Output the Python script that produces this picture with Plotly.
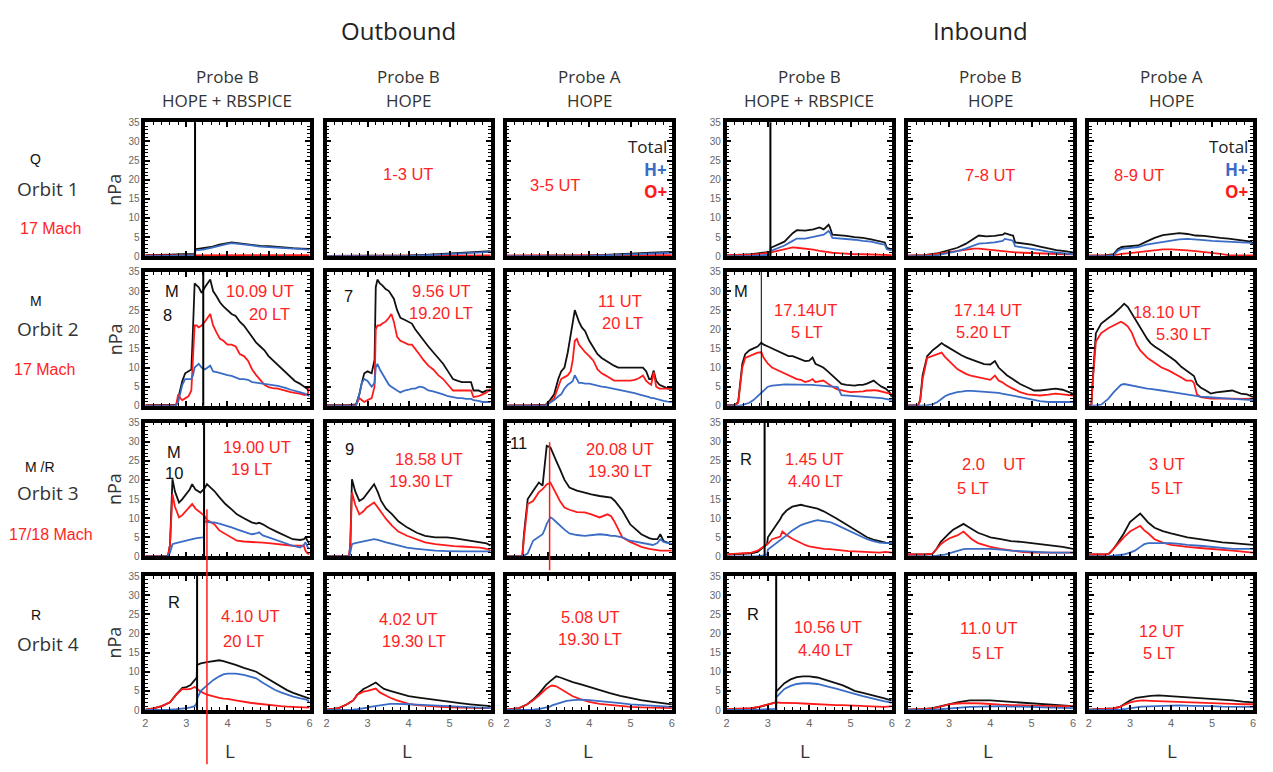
import plotly.graph_objects as go

# ------------------------------------------------------------------
# DATA  (L-shell vs pressure in nPa; Total, H+ and O+ per panel)
# naming: r<orbit row>c<column>_  columns 1-3 outbound, 4-6 inbound
# ------------------------------------------------------------------
# Orbit 1
r1c1_L = [2.0, 2.3, 2.6, 2.9, 3.2, 3.21, 3.4, 3.6, 3.8, 4.0, 4.1, 4.2, 4.4, 4.6, 4.8, 5.0, 5.2, 5.4, 5.6, 5.8, 6.0]
r1c1_tot = [0.3, 0.3, 0.4, 0.5, 0.6, 1.8, 2.0, 2.4, 3.0, 3.4, 3.6, 3.5, 3.2, 3.0, 2.7, 2.6, 2.4, 2.2, 2.1, 2.0, 1.9]
r1c1_h = [0.0, 0.0, 0.1, 0.2, 0.3, 1.5, 1.7, 2.2, 2.8, 3.2, 3.4, 3.3, 3.0, 2.8, 2.5, 2.4, 2.2, 2.0, 1.9, 1.8, 1.7]
r1c1_o = [0.2, 0.2, 0.2, 0.2, 0.2, 0.2, 0.2, 0.2, 0.2, 0.2, 0.2, 0.2, 0.2, 0.2, 0.2, 0.2, 0.2, 0.2, 0.2, 0.3, 0.3]

r1c2_L = [2.0, 3.0, 4.0, 4.5, 5.0, 5.5, 6.0]
r1c2_tot = [0.1, 0.1, 0.2, 0.4, 0.7, 1.0, 1.3]
r1c2_h = [0.0, 0.0, 0.1, 0.3, 0.5, 0.8, 1.1]
r1c2_o = [0.1, 0.1, 0.1, 0.1, 0.2, 0.2, 0.2]

r1c3_L = [2.0, 3.0, 4.0, 4.5, 5.0, 5.5, 6.0]
r1c3_tot = [0.1, 0.1, 0.2, 0.4, 0.7, 0.9, 1.1]
r1c3_h = [0.0, 0.0, 0.1, 0.3, 0.5, 0.7, 0.9]
r1c3_o = [0.2, 0.2, 0.2, 0.2, 0.3, 0.3, 0.3]

r1c4_L = [2.0, 2.3, 2.6, 2.8, 3.0, 3.06, 3.07, 3.2, 3.4, 3.6, 3.7, 3.9, 4.1, 4.25, 4.35, 4.47, 4.5, 4.56, 4.7, 4.9, 5.1, 5.3, 5.5, 5.7, 5.83, 5.88, 6.0]
r1c4_tot = [0.2, 0.3, 0.5, 0.8, 1.1, 1.2, 2.2, 2.8, 3.8, 6.0, 6.8, 6.7, 7.0, 7.5, 7.0, 8.2, 7.6, 5.6, 5.5, 5.3, 5.0, 4.8, 4.4, 4.0, 3.6, 2.2, 1.8]
r1c4_h = [0.0, 0.0, 0.1, 0.2, 0.3, 0.4, 1.4, 2.0, 2.8, 4.0, 4.6, 4.6, 5.0, 5.3, 5.6, 6.6, 6.2, 4.8, 4.7, 4.6, 4.3, 4.0, 3.8, 3.3, 3.0, 1.8, 1.5]
r1c4_o = [0.3, 0.3, 0.4, 0.6, 0.8, 0.9, 1.0, 1.3, 1.8, 2.3, 2.2, 2.0, 1.7, 1.4, 1.2, 1.0, 1.0, 0.9, 0.8, 0.6, 0.5, 0.5, 0.4, 0.4, 0.3, 0.3, 0.3]

r1c5_L = [2.0, 2.4, 2.7, 3.0, 3.2, 3.4, 3.6, 3.72, 3.9, 4.1, 4.3, 4.35, 4.5, 4.55, 4.6, 4.8, 5.0, 5.2, 5.4, 5.6, 5.8, 6.0]
r1c5_tot = [0.1, 0.3, 0.7, 1.5, 2.2, 3.2, 4.6, 5.4, 5.2, 5.3, 5.6, 6.0, 5.5, 5.4, 3.6, 3.3, 3.0, 2.5, 2.0, 1.6, 1.3, 1.0]
r1c5_h = [0.0, 0.0, 0.2, 0.8, 1.3, 2.0, 2.8, 3.3, 3.4, 3.6, 4.0, 4.5, 4.2, 4.0, 2.6, 2.3, 2.0, 1.6, 1.2, 0.9, 0.7, 0.5]
r1c5_o = [0.2, 0.3, 0.6, 1.1, 1.5, 1.8, 2.0, 2.0, 1.8, 1.5, 1.3, 1.2, 1.1, 1.1, 1.0, 0.9, 0.8, 0.7, 0.6, 0.6, 0.5, 0.5]

r1c6_L = [2.0, 2.4, 2.6, 2.7, 2.8, 3.0, 3.2, 3.4, 3.6, 3.8, 4.0, 4.2, 4.4, 4.6, 4.8, 5.0, 5.2, 5.4, 5.6, 5.8, 5.95, 6.0]
r1c6_tot = [0.1, 0.2, 0.5, 1.8, 2.4, 2.6, 2.8, 3.8, 4.8, 5.5, 5.8, 6.0, 5.8, 5.4, 5.3, 5.0, 4.8, 4.6, 4.3, 4.0, 3.8, 3.2]
r1c6_h = [0.0, 0.0, 0.2, 1.4, 1.9, 2.1, 2.4, 3.0, 3.4, 3.6, 4.0, 4.4, 4.5, 4.4, 4.2, 4.0, 3.9, 3.8, 3.7, 3.6, 3.5, 3.0]
r1c6_o = [0.2, 0.2, 0.3, 0.4, 0.6, 0.8, 1.0, 1.3, 1.6, 1.8, 1.8, 1.7, 1.5, 1.3, 1.1, 0.9, 0.6, 0.3, 0.3, 0.2, 0.2, 0.2]

# Orbit 2
r2c1_L = [2.0, 2.5, 2.75, 2.8, 2.85, 2.9, 2.97, 3.05, 3.12, 3.16, 3.2, 3.25, 3.3, 3.37, 3.45, 3.58, 3.65, 3.74, 3.82, 3.9, 4.0, 4.1, 4.2, 4.3, 4.4, 4.5, 4.6, 4.7, 4.8, 4.9, 5.0, 5.1, 5.23, 5.33, 5.43, 5.54, 5.64, 5.76, 5.88, 5.95, 6.0]
r2c1_tot = [0.2, 0.2, 0.3, 2.0, 4.5, 6.5, 8.5, 9.0, 9.5, 20.0, 32.0, 31.5, 31.0, 29.5, 31.0, 33.0, 30.0, 28.5, 27.0, 26.0, 25.0, 24.0, 23.5, 22.0, 21.0, 19.5, 18.0, 16.5, 15.5, 14.5, 13.0, 12.0, 10.5, 9.5, 8.5, 7.5, 6.5, 5.8, 5.0, 4.5, 4.0]
r2c1_h = [0.0, 0.0, 0.1, 1.0, 3.5, 5.5, 7.0, 7.0, 7.0, 8.0, 10.0, 10.5, 11.0, 10.0, 9.5, 10.5, 9.0, 8.8, 8.5, 8.2, 8.0, 7.8, 7.5, 7.0, 7.0, 6.8, 6.2, 6.0, 6.0, 5.8, 5.6, 5.4, 5.2, 5.0, 4.6, 4.2, 4.0, 3.6, 3.2, 2.8, 2.5]
r2c1_o = [0.1, 0.1, 0.2, 3.0, 2.0, 1.5, 2.0, 2.5, 4.0, 12.0, 21.0, 21.0, 20.5, 21.0, 22.0, 24.0, 21.0, 19.0, 17.5, 17.0, 16.0, 16.0, 15.5, 13.5, 13.0, 11.8, 9.5, 8.0, 6.6, 5.5, 4.9, 4.6, 4.5, 4.2, 3.8, 3.6, 3.4, 3.2, 2.8, 3.0, 5.0]

r2c2_L = [2.0, 2.5, 2.72, 2.8, 2.86, 2.92, 3.0, 3.1, 3.17, 3.2, 3.24, 3.3, 3.36, 3.44, 3.52, 3.58, 3.64, 3.72, 3.8, 3.9, 4.0, 4.08, 4.16, 4.26, 4.36, 4.48, 4.6, 4.72, 4.84, 4.96, 5.08, 5.2, 5.3, 5.4, 5.52, 5.58, 5.7, 5.8, 5.9, 6.0]
r2c2_tot = [0.2, 0.2, 0.4, 3.0, 6.0, 8.5, 9.0, 8.5, 12.0, 31.0, 33.0, 32.0, 31.5, 30.5, 30.0, 29.0, 28.0, 25.0, 23.0, 22.5, 22.0, 21.5, 20.0, 18.5, 17.0, 15.5, 14.0, 12.5, 11.0, 9.0, 7.0, 6.5, 6.2, 6.2, 6.2, 4.0, 4.0, 3.5, 4.0, 4.0]
r2c2_h = [0.0, 0.0, 0.1, 3.0, 6.0, 7.0, 6.5, 5.0, 6.0, 10.0, 11.0, 9.5, 8.5, 7.0, 5.5, 5.0, 4.5, 4.0, 3.5, 4.0, 4.2, 4.5, 4.5, 5.0, 4.8, 4.0, 3.8, 3.5, 3.0, 2.5, 2.2, 2.0, 2.0, 1.8, 1.8, 1.5, 1.3, 1.0, 1.0, 1.0]
r2c2_o = [0.1, 0.1, 0.2, 2.0, 1.5, 1.0, 1.5, 2.0, 5.0, 20.0, 21.0, 21.0, 21.5, 22.0, 23.0, 24.0, 22.0, 18.0, 17.0, 16.5, 16.0, 16.0, 15.0, 13.5, 12.0, 10.5, 9.5, 8.0, 7.0, 5.5, 4.0, 4.0, 4.0, 4.0, 4.0, 2.3, 2.5, 3.0, 3.5, 4.5]

r2c3_L = [2.0, 2.5, 2.95, 3.05, 3.15, 3.25, 3.32, 3.4, 3.48, 3.55, 3.6, 3.65, 3.7, 3.75, 3.82, 3.9, 4.0, 4.1, 4.2, 4.3, 4.4, 4.5, 4.6, 4.7, 4.8, 4.9, 5.0, 5.1, 5.2, 5.3, 5.38, 5.45, 5.5, 5.56, 5.62, 5.7, 5.8, 5.9, 6.0]
r2c3_tot = [0.1, 0.1, 0.3, 1.5, 3.0, 7.0, 9.0, 10.0, 14.0, 19.0, 22.0, 25.0, 23.5, 22.0, 20.5, 19.5, 17.0, 15.2, 13.5, 12.5, 11.8, 11.0, 10.5, 10.0, 10.0, 10.0, 10.0, 10.0, 10.0, 10.0, 9.0, 7.0, 7.0, 9.2, 6.5, 5.5, 5.0, 4.5, 4.5]
r2c3_h = [0.0, 0.0, 0.1, 0.8, 1.5, 2.5, 3.0, 4.5, 5.5, 6.0, 6.5, 8.0, 7.0, 6.0, 6.0, 5.8, 5.8, 5.5, 5.2, 5.0, 4.9, 4.7, 4.5, 4.2, 4.0, 3.8, 3.6, 3.3, 3.0, 2.8, 2.5, 2.3, 2.0, 2.0, 1.8, 1.5, 1.3, 1.1, 1.0]
r2c3_o = [0.1, 0.1, 0.2, 1.0, 2.0, 5.0, 7.0, 7.5, 8.0, 9.0, 12.0, 17.0, 17.5, 16.0, 15.0, 14.0, 13.0, 11.8, 9.5, 8.5, 7.9, 7.2, 6.6, 6.6, 6.6, 6.6, 6.6, 6.8, 7.2, 7.9, 6.5, 5.8, 5.5, 8.8, 5.0, 4.5, 4.5, 4.5, 4.5]

r2c4_L = [2.0, 2.2, 2.28, 2.33, 2.38, 2.45, 2.55, 2.65, 2.75, 2.84, 2.9, 3.0, 3.1, 3.2, 3.3, 3.4, 3.5, 3.6, 3.7, 3.8, 3.9, 4.0, 4.08, 4.15, 4.25, 4.34, 4.45, 4.55, 4.62, 4.69, 4.78, 4.9, 5.0, 5.1, 5.2, 5.3, 5.4, 5.5, 5.56, 5.65, 5.75, 5.85, 5.95, 6.0]
r2c4_tot = [0.2, 0.2, 1.0, 7.0, 11.0, 13.5, 14.5, 15.0, 15.5, 16.5, 16.0, 15.5, 15.0, 14.5, 14.0, 13.5, 13.0, 13.0, 12.5, 12.0, 11.7, 11.8, 12.6, 11.0, 10.5, 10.0, 9.0, 8.0, 7.2, 6.6, 5.7, 5.5, 5.3, 5.3, 5.5, 5.5, 5.8, 6.2, 6.6, 5.8, 5.0, 4.5, 3.5, 2.3]
r2c4_h = [0.0, 0.0, 0.0, 0.1, 0.2, 0.4, 0.8, 1.5, 2.5, 3.6, 4.2, 5.0, 5.3, 5.5, 5.5, 5.6, 5.6, 5.6, 5.6, 5.6, 5.6, 5.5, 5.5, 5.4, 5.3, 5.2, 5.0, 5.0, 4.9, 4.9, 2.8, 2.7, 2.6, 2.5, 2.5, 2.4, 2.4, 2.3, 2.3, 2.2, 2.0, 1.8, 1.6, 1.5]
r2c4_o = [0.1, 0.1, 0.8, 6.0, 10.0, 12.5, 13.0, 13.5, 13.9, 14.0, 12.5, 11.0, 10.0, 9.5, 9.0, 8.5, 7.9, 7.5, 7.0, 6.8, 6.2, 6.5, 7.0, 6.2, 6.4, 6.6, 5.8, 5.0, 4.6, 4.3, 4.0, 3.8, 3.6, 3.6, 3.7, 3.8, 4.0, 4.0, 4.1, 4.0, 3.8, 3.5, 3.2, 3.0]

r2c5_L = [2.0, 2.25, 2.3, 2.36, 2.47, 2.6, 2.72, 2.82, 2.9, 3.0, 3.1, 3.2, 3.3, 3.42, 3.55, 3.7, 3.85, 4.0, 4.11, 4.2, 4.28, 4.4, 4.54, 4.72, 4.9, 5.06, 5.2, 5.4, 5.58, 5.75, 5.9, 6.0]
r2c5_tot = [0.1, 0.2, 1.5, 8.0, 13.0, 14.5, 15.5, 16.4, 15.8, 15.1, 14.5, 13.8, 13.2, 12.6, 12.0, 11.5, 10.9, 10.8, 11.7, 10.0, 9.2, 8.0, 7.0, 5.7, 4.8, 4.0, 4.0, 4.3, 4.5, 4.2, 3.6, 3.2]
r2c5_h = [0.0, 0.0, 0.0, 0.1, 0.2, 0.4, 1.0, 1.9, 2.5, 3.0, 3.4, 3.6, 3.7, 3.9, 3.9, 3.8, 3.7, 3.6, 3.6, 3.4, 3.2, 3.0, 2.7, 2.3, 1.9, 1.5, 1.2, 1.0, 1.0, 1.0, 1.0, 1.0]
r2c5_o = [0.1, 0.1, 1.2, 7.0, 12.5, 13.0, 13.5, 13.9, 12.8, 11.7, 10.5, 9.6, 9.0, 8.3, 7.8, 7.4, 7.0, 6.8, 7.9, 6.6, 6.2, 5.3, 4.5, 3.6, 3.0, 2.8, 2.7, 2.9, 3.2, 3.0, 2.8, 2.7]

r2c6_L = [2.0, 2.06, 2.1, 2.17, 2.3, 2.47, 2.6, 2.78, 2.86, 2.95, 3.05, 3.16, 3.25, 3.42, 3.5, 3.6, 3.77, 3.95, 4.11, 4.25, 4.37, 4.5, 4.56, 4.63, 4.72, 4.85, 4.97, 5.1, 5.3, 5.49, 5.7, 5.85, 6.0]
r2c6_tot = [0.1, 0.3, 8.0, 19.0, 21.5, 22.8, 24.0, 25.8, 26.7, 25.8, 24.0, 22.0, 20.3, 17.5, 16.4, 15.5, 14.3, 13.0, 11.7, 10.2, 9.2, 8.3, 7.8, 5.7, 4.8, 4.0, 3.2, 3.5, 3.8, 4.0, 3.2, 3.0, 2.3]
r2c6_h = [0.0, 0.0, 0.0, 0.1, 0.3, 1.8, 3.5, 5.5, 5.7, 5.5, 5.2, 5.0, 4.8, 4.5, 4.4, 4.3, 4.0, 3.7, 3.4, 3.2, 3.0, 2.8, 2.7, 2.6, 2.4, 2.3, 2.2, 2.0, 1.9, 1.8, 1.7, 1.6, 1.5]
r2c6_o = [0.1, 0.2, 7.0, 16.8, 19.0, 20.3, 21.0, 22.0, 21.5, 20.7, 19.0, 16.0, 14.5, 12.6, 12.0, 11.2, 10.0, 9.2, 8.3, 7.4, 6.6, 6.6, 6.0, 3.0, 2.3, 2.0, 1.9, 1.9, 1.8, 1.9, 1.8, 1.9, 1.9]

# Orbit 3
r3c1_L = [2.0, 2.55, 2.6, 2.66, 2.72, 2.82, 2.9, 3.0, 3.08, 3.14, 3.22, 3.34, 3.42, 3.44, 3.5, 3.6, 3.68, 3.8, 3.95, 4.1, 4.23, 4.4, 4.59, 4.7, 4.77, 4.86, 5.0, 5.23, 5.4, 5.59, 5.77, 5.86, 5.9, 5.95, 6.0]
r3c1_tot = [0.1, 0.1, 3.0, 20.2, 17.0, 14.1, 15.0, 16.3, 17.5, 18.9, 17.5, 16.7, 17.5, 17.8, 18.9, 18.0, 17.1, 15.5, 13.7, 12.3, 11.0, 10.0, 8.9, 8.6, 8.8, 8.4, 7.5, 6.3, 5.4, 4.5, 4.3, 4.5, 5.0, 4.0, 3.2]
r3c1_h = [0.0, 0.0, 1.0, 3.2, 3.4, 3.7, 3.9, 4.1, 4.3, 4.5, 4.7, 4.9, 5.0, 9.3, 9.0, 8.9, 8.9, 8.6, 8.2, 7.6, 7.1, 6.4, 5.8, 6.0, 6.3, 5.5, 5.0, 4.1, 3.4, 2.8, 2.3, 3.0, 3.7, 2.5, 2.0]
r3c1_o = [0.1, 0.1, 3.0, 16.3, 13.0, 10.2, 10.8, 11.9, 12.8, 13.7, 12.5, 11.5, 10.8, 10.6, 9.5, 8.9, 8.4, 6.8, 5.8, 4.8, 4.1, 3.9, 3.7, 3.7, 3.7, 3.6, 3.5, 3.2, 3.0, 2.8, 2.8, 2.8, 1.5, 0.8, 0.6]

r3c2_L = [2.0, 2.55, 2.58, 2.62, 2.7, 2.8, 2.9, 2.98, 3.08, 3.16, 3.25, 3.33, 3.45, 3.6, 3.75, 3.96, 4.2, 4.4, 4.65, 4.93, 5.1, 5.29, 5.5, 5.73, 5.9, 6.0]
r3c2_tot = [0.1, 0.1, 3.0, 20.2, 17.0, 14.5, 15.2, 16.3, 17.5, 18.9, 16.8, 14.5, 12.5, 11.0, 9.2, 7.6, 6.2, 5.4, 5.0, 5.0, 4.8, 4.5, 4.2, 3.7, 3.4, 2.8]
r3c2_h = [0.0, 0.0, 1.0, 3.2, 3.5, 3.7, 4.0, 4.2, 4.4, 4.5, 4.3, 4.0, 3.7, 3.3, 2.8, 2.3, 2.0, 1.7, 1.5, 1.4, 1.3, 1.3, 1.3, 1.3, 1.3, 1.3]
r3c2_o = [0.1, 0.1, 3.0, 16.7, 13.5, 11.0, 11.8, 12.8, 13.5, 14.1, 12.8, 11.5, 9.8, 8.0, 6.5, 5.4, 4.5, 3.7, 3.2, 2.8, 2.7, 2.6, 2.5, 2.3, 2.0, 1.5]

r3c3_L = [2.0, 2.38, 2.42, 2.51, 2.64, 2.78, 2.87, 2.92, 2.97, 3.06, 3.1, 3.2, 3.29, 3.4, 3.52, 3.7, 3.89, 4.05, 4.25, 4.44, 4.53, 4.62, 4.71, 4.8, 4.99, 5.17, 5.26, 5.45, 5.54, 5.65, 5.72, 5.8, 5.9, 6.0]
r3c3_tot = [0.1, 0.1, 6.0, 15.0, 17.1, 19.3, 18.5, 24.0, 28.9, 28.5, 27.6, 25.0, 22.8, 20.0, 18.0, 17.2, 16.7, 16.2, 15.8, 15.6, 15.4, 14.5, 13.2, 12.0, 8.4, 6.5, 5.8, 4.8, 4.5, 4.5, 5.8, 4.0, 3.5, 3.2]
r3c3_h = [0.0, 0.0, 0.2, 0.8, 4.1, 5.2, 5.8, 7.0, 8.5, 10.2, 10.0, 9.0, 8.0, 7.0, 6.0, 5.6, 5.4, 5.5, 5.8, 5.6, 5.4, 5.4, 5.2, 5.0, 4.1, 3.7, 3.5, 3.2, 3.0, 3.5, 4.5, 3.8, 3.4, 3.2]
r3c3_o = [0.1, 0.1, 5.0, 13.7, 14.5, 16.8, 17.6, 18.2, 18.8, 19.3, 18.5, 16.3, 14.5, 12.8, 12.2, 11.6, 11.5, 11.0, 10.2, 11.0, 10.5, 8.9, 7.0, 5.0, 3.8, 2.8, 2.5, 2.0, 1.8, 1.6, 1.5, 1.5, 1.5, 1.5]

r3c4_L = [2.0, 2.3, 2.6, 2.75, 2.9, 2.98, 3.0, 3.1, 3.2, 3.3, 3.35, 3.45, 3.59, 3.7, 3.8, 3.9, 4.0, 4.1, 4.2, 4.35, 4.5, 4.65, 4.8, 4.95, 5.1, 5.25, 5.4, 5.55, 5.7, 5.85, 6.0]
r3c4_tot = [0.5, 0.6, 0.8, 1.2, 2.5, 3.2, 5.0, 6.5, 8.0, 9.8, 10.8, 12.0, 13.0, 13.3, 13.5, 13.2, 13.0, 12.8, 12.5, 11.8, 11.0, 10.0, 9.0, 8.0, 7.0, 6.0, 5.0, 4.4, 4.0, 3.6, 3.5]
r3c4_h = [0.0, 0.0, 0.0, 0.1, 0.3, 0.5, 1.8, 2.6, 3.4, 4.2, 4.7, 5.5, 6.8, 7.6, 8.2, 8.6, 9.0, 9.2, 9.5, 9.3, 9.0, 8.3, 7.5, 6.8, 6.0, 5.2, 4.5, 4.0, 3.6, 3.5, 3.5]
r3c4_o = [0.5, 0.8, 1.0, 1.5, 2.5, 3.0, 3.3, 4.5, 4.8, 5.2, 6.5, 5.6, 4.6, 4.0, 3.5, 3.0, 2.6, 2.4, 2.2, 2.0, 1.9, 1.7, 1.5, 1.4, 1.3, 1.2, 1.1, 1.0, 1.0, 1.2, 1.0]

r3c5_L = [2.0, 2.4, 2.6, 2.7, 2.8, 2.9, 3.0, 3.1, 3.2, 3.35, 3.45, 3.55, 3.7, 3.85, 4.0, 4.25, 4.5, 4.75, 5.0, 5.25, 5.5, 5.75, 6.0]
r3c5_tot = [0.5, 0.5, 0.7, 2.0, 3.8, 5.0, 6.0, 7.0, 7.6, 8.5, 7.8, 7.2, 6.2, 5.6, 5.0, 4.5, 4.0, 3.8, 3.5, 3.2, 2.9, 2.5, 2.0]
r3c5_h = [0.0, 0.0, 0.1, 0.2, 0.3, 0.5, 0.8, 1.1, 1.5, 1.9, 2.0, 2.0, 2.0, 2.0, 2.0, 1.8, 1.5, 1.4, 1.2, 1.1, 1.0, 1.0, 1.0]
r3c5_o = [0.5, 0.5, 0.7, 2.0, 3.2, 4.0, 4.7, 5.1, 5.5, 6.5, 5.5, 4.5, 3.5, 3.0, 2.5, 2.0, 1.5, 1.2, 1.0, 1.0, 1.0, 1.0, 1.0]

r3c6_L = [2.0, 2.4, 2.5, 2.6, 2.7, 2.85, 3.0, 3.12, 3.25, 3.35, 3.45, 3.6, 3.8, 4.0, 4.2, 4.4, 4.7, 5.0, 5.25, 5.5, 5.8, 6.0]
r3c6_tot = [0.5, 0.5, 0.8, 2.0, 3.5, 6.0, 9.0, 10.0, 11.2, 10.0, 8.8, 7.5, 6.6, 6.0, 5.5, 5.0, 4.5, 4.0, 3.7, 3.5, 3.1, 3.0]
r3c6_h = [0.0, 0.0, 0.1, 0.2, 0.3, 0.5, 1.0, 1.5, 2.5, 3.2, 3.5, 3.5, 3.5, 3.5, 3.3, 3.0, 2.8, 2.5, 2.3, 2.0, 2.0, 2.0]
r3c6_o = [0.5, 0.5, 0.8, 2.0, 3.2, 5.0, 6.5, 7.2, 8.0, 6.8, 6.0, 4.5, 3.6, 3.0, 2.7, 2.5, 2.2, 2.0, 1.8, 1.5, 1.2, 1.0]

# Orbit 4
r4c1_L = [2.0, 2.2, 2.4, 2.6, 2.75, 2.9, 3.0, 3.1, 3.2, 3.25, 3.26, 3.35, 3.5, 3.65, 3.8, 3.9, 4.0, 4.2, 4.4, 4.55, 4.7, 4.85, 5.0, 5.15, 5.3, 5.45, 5.6, 5.75, 5.9, 6.0]
r4c1_tot = [0.1, 0.4, 1.0, 2.0, 4.0, 5.8, 6.0, 6.5, 7.8, 8.5, 11.8, 12.2, 12.5, 12.7, 13.0, 12.8, 12.5, 11.8, 11.0, 10.5, 10.0, 9.0, 8.0, 7.0, 6.0, 5.2, 4.5, 3.9, 3.4, 3.0]
r4c1_h = [0.0, 0.0, 0.0, 0.1, 0.2, 0.3, 0.5, 0.7, 1.0, 1.8, 3.0, 5.0, 6.5, 7.8, 8.8, 9.3, 9.5, 9.5, 9.2, 8.8, 8.3, 7.2, 6.2, 5.3, 4.6, 4.0, 3.5, 3.1, 2.8, 2.2]
r4c1_o = [0.1, 0.4, 1.0, 2.0, 4.0, 5.5, 5.4, 5.5, 6.0, 5.8, 5.5, 4.8, 4.0, 3.5, 3.2, 3.0, 2.9, 2.5, 2.1, 1.9, 1.7, 1.5, 1.4, 1.2, 1.0, 0.9, 0.8, 0.7, 0.6, 0.6]

r4c2_L = [2.0, 2.3, 2.5, 2.65, 2.75, 2.9, 3.0, 3.1, 3.2, 3.3, 3.4, 3.55, 3.7, 3.85, 4.0, 4.2, 4.4, 4.7, 5.0, 5.25, 5.5, 5.75, 6.0]
r4c2_tot = [0.1, 0.5, 1.5, 2.5, 4.0, 5.5, 6.0, 6.5, 7.2, 6.3, 5.5, 5.0, 4.5, 4.0, 3.6, 3.3, 3.0, 2.5, 2.1, 1.8, 1.5, 1.2, 1.0]
r4c2_h = [0.0, 0.0, 0.0, 0.1, 0.2, 0.4, 0.6, 0.9, 1.1, 1.3, 1.5, 1.6, 1.6, 1.6, 1.5, 1.4, 1.3, 1.2, 1.0, 0.9, 0.8, 0.6, 0.5]
r4c2_o = [0.1, 0.5, 1.5, 2.5, 4.0, 4.8, 5.0, 5.3, 5.6, 4.6, 4.0, 3.2, 2.6, 2.0, 1.6, 1.3, 1.1, 0.9, 0.7, 0.6, 0.5, 0.5, 0.5]

r4c3_L = [2.0, 2.3, 2.5, 2.65, 2.8, 2.95, 3.05, 3.1, 3.2, 3.3, 3.45, 3.6, 3.8, 4.0, 4.25, 4.5, 4.75, 5.0, 5.25, 5.5, 5.75, 6.0]
r4c3_tot = [0.1, 0.5, 1.5, 2.8, 4.5, 6.5, 7.5, 8.0, 8.8, 8.5, 7.8, 7.3, 6.7, 6.0, 5.2, 4.4, 3.7, 3.1, 2.6, 2.2, 1.8, 1.5]
r4c3_h = [0.0, 0.0, 0.0, 0.1, 0.3, 0.6, 0.9, 1.2, 1.6, 2.0, 2.4, 2.6, 2.7, 2.6, 2.4, 2.1, 1.8, 1.5, 1.3, 1.1, 0.9, 0.8]
r4c3_o = [0.1, 0.5, 1.5, 2.6, 4.0, 5.5, 6.2, 6.4, 6.2, 5.5, 4.5, 3.6, 2.8, 2.1, 1.6, 1.3, 1.0, 0.8, 0.7, 0.6, 0.5, 0.5]

r4c4_L = [2.0, 2.3, 2.6, 2.8, 3.0, 3.19, 3.2, 3.3, 3.4, 3.55, 3.7, 3.85, 4.0, 4.2, 4.35, 4.5, 4.65, 4.8, 4.95, 5.1, 5.3, 5.5, 5.65, 5.8, 5.9, 6.0]
r4c4_tot = [0.1, 0.2, 0.4, 0.8, 1.5, 2.0, 4.8, 6.0, 7.0, 8.0, 8.6, 8.8, 8.8, 8.5, 8.0, 7.5, 7.0, 6.5, 5.8, 5.0, 4.5, 4.0, 3.6, 3.1, 2.8, 2.5]
r4c4_h = [0.0, 0.0, 0.0, 0.1, 0.2, 0.3, 3.3, 4.5, 5.5, 6.3, 6.8, 7.0, 7.0, 6.8, 6.5, 6.0, 5.6, 5.2, 4.7, 4.2, 3.6, 3.0, 2.6, 2.3, 2.1, 1.9]
r4c4_o = [0.2, 0.3, 0.5, 0.9, 1.5, 2.0, 2.0, 1.9, 1.9, 1.8, 1.8, 1.7, 1.6, 1.5, 1.5, 1.4, 1.3, 1.3, 1.2, 1.2, 1.0, 0.9, 0.8, 0.8, 0.9, 1.0]

r4c5_L = [2.0, 2.4, 2.6, 2.8, 3.0, 3.2, 3.5, 3.8, 4.0, 4.25, 4.5, 4.75, 5.0, 5.25, 5.5, 5.75, 6.0]
r4c5_tot = [0.1, 0.2, 0.5, 1.0, 1.6, 2.0, 2.5, 2.6, 2.5, 2.3, 2.1, 1.9, 1.8, 1.6, 1.5, 1.2, 1.0]
r4c5_h = [0.0, 0.0, 0.0, 0.2, 0.4, 0.6, 0.8, 0.9, 1.0, 1.0, 0.9, 0.9, 0.8, 0.7, 0.6, 0.5, 0.5]
r4c5_o = [0.1, 0.2, 0.4, 0.9, 1.5, 1.7, 1.8, 1.7, 1.5, 1.4, 1.3, 1.2, 1.2, 1.1, 1.0, 1.0, 1.0]

r4c6_L = [2.0, 2.4, 2.6, 2.75, 2.9, 3.0, 3.15, 3.3, 3.5, 3.7, 4.0, 4.2, 4.5, 4.75, 5.0, 5.25, 5.5, 5.75, 6.0]
r4c6_tot = [0.1, 0.2, 0.4, 0.8, 1.8, 2.5, 3.2, 3.5, 3.7, 3.8, 3.6, 3.5, 3.3, 3.1, 3.0, 2.8, 2.5, 2.2, 2.0]
r4c6_h = [0.0, 0.0, 0.0, 0.1, 0.3, 0.5, 0.7, 0.9, 1.0, 1.1, 1.2, 1.2, 1.1, 1.1, 1.0, 0.9, 0.9, 0.8, 0.8]
r4c6_o = [0.1, 0.2, 0.4, 0.8, 1.6, 2.0, 2.3, 2.5, 2.4, 2.3, 2.2, 2.1, 2.0, 1.9, 1.8, 1.7, 1.6, 1.5, 1.5]

# titles / labels
side_titles = ["Outbound", "Inbound"]
probe_names = ["Probe B", "Probe B", "Probe A", "Probe B", "Probe B", "Probe A"]
instruments = ["HOPE + RBSPICE", "HOPE", "HOPE", "HOPE + RBSPICE", "HOPE", "HOPE"]
orbit_names = ["Orbit 1", "Orbit 2", "Orbit 3", "Orbit 4"]
orbit_state = ["Q", "M", "M /R", "R"]
orbit_dates = ["17 Mach", "17 Mach", "17/18 Mach", ""]
y_ticks = [0, 5, 10, 15, 20, 25, 30, 35]
x_ticks = [2, 3, 4, 5, 6]

# per panel: (row, col, L, total, H+, O+)
panels = [
    (1, 1, r1c1_L, r1c1_tot, r1c1_h, r1c1_o), (1, 2, r1c2_L, r1c2_tot, r1c2_h, r1c2_o),
    (1, 3, r1c3_L, r1c3_tot, r1c3_h, r1c3_o), (1, 4, r1c4_L, r1c4_tot, r1c4_h, r1c4_o),
    (1, 5, r1c5_L, r1c5_tot, r1c5_h, r1c5_o), (1, 6, r1c6_L, r1c6_tot, r1c6_h, r1c6_o),
    (2, 1, r2c1_L, r2c1_tot, r2c1_h, r2c1_o), (2, 2, r2c2_L, r2c2_tot, r2c2_h, r2c2_o),
    (2, 3, r2c3_L, r2c3_tot, r2c3_h, r2c3_o), (2, 4, r2c4_L, r2c4_tot, r2c4_h, r2c4_o),
    (2, 5, r2c5_L, r2c5_tot, r2c5_h, r2c5_o), (2, 6, r2c6_L, r2c6_tot, r2c6_h, r2c6_o),
    (3, 1, r3c1_L, r3c1_tot, r3c1_h, r3c1_o), (3, 2, r3c2_L, r3c2_tot, r3c2_h, r3c2_o),
    (3, 3, r3c3_L, r3c3_tot, r3c3_h, r3c3_o), (3, 4, r3c4_L, r3c4_tot, r3c4_h, r3c4_o),
    (3, 5, r3c5_L, r3c5_tot, r3c5_h, r3c5_o), (3, 6, r3c6_L, r3c6_tot, r3c6_h, r3c6_o),
    (4, 1, r4c1_L, r4c1_tot, r4c1_h, r4c1_o), (4, 2, r4c2_L, r4c2_tot, r4c2_h, r4c2_o),
    (4, 3, r4c3_L, r4c3_tot, r4c3_h, r4c3_o), (4, 4, r4c4_L, r4c4_tot, r4c4_h, r4c4_o),
    (4, 5, r4c5_L, r4c5_tot, r4c5_h, r4c5_o), (4, 6, r4c6_L, r4c6_tot, r4c6_h, r4c6_o),
]

# boundary markers (vertical lines, L value) per panel
black_marks = {(1, 1): (3.21, 2), (2, 1): (3.41, 2), (3, 1): (3.43, 2), (4, 1): (3.26, 2),
               (1, 4): (3.06, 2), (2, 4): (2.84, 1), (3, 4): (2.92, 2), (4, 4): (3.2, 2)}

# in-panel texts: (row, col, L, nPa, text, colour key)
panel_texts = [
    (1, 2, 3.99, 21.6, "1-3 UT", "r"), (1, 3, 3.16, 18.5, "3-5 UT", "r"),
    (1, 5, 3.98, 21.1, "7-8 UT", "r"), (1, 6, 3.23, 21.1, "8-9 UT", "r"),
    (2, 1, 2.65, 30.0, "M", "k"), (2, 1, 2.55, 23.8, "8", "k"),
    (2, 1, 4.79, 29.9, "10.09 UT", "r"), (2, 1, 5.03, 23.9, "20 LT", "r"),
    (2, 2, 2.53, 28.6, "7", "k"), (2, 2, 4.79, 29.9, "9.56 UT", "r"), (2, 2, 4.79, 24.2, "19.20 LT", "r"),
    (2, 3, 4.75, 27.3, "11 UT", "r"), (2, 3, 4.80, 21.6, "20 LT", "r"),
    (2, 4, 2.34, 29.9, "M", "k"), (2, 4, 3.90, 25.0, "17.14UT", "r"), (2, 4, 3.95, 19.3, "5 LT", "r"),
    (2, 5, 3.95, 25.0, "17.14 UT", "r"), (2, 5, 3.83, 19.3, "5.20 LT", "r"),
    (2, 6, 3.90, 24.5, "18.10 UT", "r"), (2, 6, 4.31, 18.8, "5.30 LT", "r"),
    (3, 1, 2.70, 27.3, "M", "k"), (3, 1, 2.70, 21.9, "10", "k"),
    (3, 1, 4.72, 28.6, "19.00 UT", "r"), (3, 1, 4.59, 22.9, "19 LT", "r"),
    (3, 2, 2.56, 28.1, "9", "k"), (3, 2, 4.50, 25.5, "18.58 UT", "r"), (3, 2, 4.30, 19.6, "19.30 LT", "r"),
    (3, 3, 2.29, 29.6, "11", "k"), (3, 3, 4.75, 28.1, "20.08 UT", "r"), (3, 3, 4.75, 22.4, "19.30 LT", "r"),
    (3, 4, 2.48, 25.5, "R", "k"), (3, 4, 4.12, 25.5, "1.45 UT", "r"), (3, 4, 4.14, 19.8, "4.40 LT", "r"),
    (3, 5, 4.07, 24.2, "2.0    UT", "r"), (3, 5, 3.59, 17.8, "5 LT", "r"),
    (3, 6, 3.90, 24.2, "3 UT", "r"), (3, 6, 3.90, 17.8, "5 LT", "r"),
    (4, 1, 2.70, 28.3, "R", "k"), (4, 1, 4.55, 24.5, "4.10 UT", "r"), (4, 1, 4.40, 18.0, "20 LT", "r"),
    (4, 2, 3.99, 23.9, "4.02 UT", "r"), (4, 2, 4.13, 18.0, "19.30 LT", "r"),
    (4, 3, 4.02, 24.2, "5.08 UT", "r"), (4, 3, 4.02, 18.5, "19.30 LT", "r"),
    (4, 4, 2.65, 25.0, "R", "k"), (4, 4, 4.46, 21.6, "10.56 UT", "r"), (4, 4, 4.39, 15.7, "4.40 LT", "r"),
    (4, 5, 3.95, 21.4, "11.0 UT", "r"), (4, 5, 3.95, 14.9, "5 LT", "r"),
    (4, 6, 3.78, 20.6, "12 UT", "r"), (4, 6, 3.71, 14.9, "5 LT", "r"),
]

# ------------------------------------------------------------------
W, H = 1273, 772
OFF = 8  # default page body margin shifts the figure by this many pixels
BLACK, BLUE, RED = "#111111", "#3a6cc6", "#ff1a1a"
TXT_RED = "#ff2424"

col_px = [(143, 308), (325, 490), (506, 672), (727, 893), (909, 1075), (1091, 1256)]
row_px = [(118, 254), (270, 406), (423, 559), (579, 715)]


def px(x, y):
    return (x - OFF) / W, 1 - (y - OFF) / H


def aid(r, c):
    return (r - 1) * 6 + c


fig = go.Figure()
layout = dict(width=W, height=H, margin=dict(l=0, r=0, t=0, b=0),
              paper_bgcolor="white", plot_bgcolor="white", showlegend=False)

for r in range(1, 5):
    for c in range(1, 7):
        k = aid(r, c)
        x0, x1 = col_px[c - 1]
        y0, y1 = row_px[r - 1]
        xs = "" if k == 1 else str(k)
        common = dict(showgrid=False, zeroline=False, showline=True, linecolor="black",
                      linewidth=3.5, mirror="allticks", ticks="inside", tickcolor="black",
                      tickwidth=1.5, ticklen=5)
        layout["xaxis" + xs] = dict(
            common, domain=[px(x0, 0)[0], px(x1, 0)[0]], anchor="y" + xs, range=[2, 6],
            tickvals=x_ticks, showticklabels=(r == 4),
            tickfont=dict(family="Liberation Sans Narrow, Liberation Sans", size=11, color="#666666"),
            minor=dict(ticks="inside", dtick=0.2, ticklen=3, tickcolor="black", tickwidth=1))
        layout["yaxis" + xs] = dict(
            common, domain=[px(0, y1)[1], px(0, y0)[1]], anchor="x" + xs, range=[0, 35],
            tickvals=y_ticks, showticklabels=(c in (1, 4)),
            tickfont=dict(family="Liberation Sans Narrow, Liberation Sans", size=10, color="#666666"),
            minor=dict(ticks="inside", dtick=1, ticklen=3, tickcolor="black", tickwidth=1))

for (r, c, L, tot, hp, op) in panels:
    k = aid(r, c)
    xs = "" if k == 1 else str(k)
    for vals, col, nm in ((tot, BLACK, "Total"), (op, RED, "O+"), (hp, BLUE, "H+")):
        fig.add_trace(go.Scatter(x=L, y=vals, mode="lines", name=nm,
                                 line=dict(color=col, width=1.8),
                                 xaxis="x" + xs, yaxis="y" + xs, hoverinfo="skip"))

shapes = []
for (r, c), (Lv, wd) in black_marks.items():
    k = aid(r, c)
    xs = "" if k == 1 else str(k)
    shapes.append(dict(type="line", xref="x" + xs, yref="y" + xs + " domain",
                       x0=Lv, x1=Lv, y0=0, y1=1, line=dict(color="black", width=wd)))
# red reference lines crossing panels
shapes.append(dict(type="line", xref="x19", yref="paper", x0=3.5, x1=3.5,
                   y0=px(0, 770)[1], y1=px(0, 511)[1], line=dict(color=RED, width=1.5)))
shapes.append(dict(type="line", xref="x15", yref="paper", x0=3.04, x1=3.04,
                   y0=px(0, 573)[1], y1=px(0, 443)[1], line=dict(color=RED, width=1.5)))
layout["shapes"] = shapes

ann = []
HEAD = "Open Sans"
for i, cx in enumerate([397, 982]):
    x, y = px(cx, 25)
    ann.append(dict(x=x, y=y, text=side_titles[i], font=dict(family=HEAD, size=24, color="#222222")))
for c in range(6):
    cx = (col_px[c][0] + col_px[c][1]) / 2
    x, y = px(cx, 71)
    ann.append(dict(x=x, y=y, text=probe_names[c], font=dict(family=HEAD, size=17, color="#333333")))
    x, y = px(cx, 96)
    ann.append(dict(x=x, y=y, text=instruments[c], font=dict(family=HEAD, size=17, color="#333333")))
state_px = [(33, 155), (33, 300), (37, 468), (33, 618)]
orbit_px = [(45, 186), (45, 328), (45, 495), (45, 648)]
date_px = [(48, 226), (42, 369), (48, 537), (48, 690)]
npa_y = [187, 339, 491, 647]
for i in range(4):
    x, y = px(*state_px[i])
    ann.append(dict(x=x, y=y, text=orbit_state[i], font=dict(family="Liberation Sans", size=14, color="#111111")))
    x, y = px(*orbit_px[i])
    ann.append(dict(x=x, y=y, text=orbit_names[i], font=dict(family=HEAD, size=19, color="#333333")))
    if orbit_dates[i]:
        x, y = px(*date_px[i])
        ann.append(dict(x=x, y=y, text=orbit_dates[i], font=dict(family="Liberation Sans", size=16, color=TXT_RED)))
    x, y = px(112, npa_y[i])
    ann.append(dict(x=x, y=y, text="nPa", textangle=-90, font=dict(family=HEAD, size=18, color="#333333")))
for cx in [228, 406, 588, 806, 990, 1175]:
    x, y = px(cx, 757)
    ann.append(dict(x=x, y=y, text="L", font=dict(family=HEAD, size=19, color="#333333")))

for (r, c, Lv, v, t, ck) in panel_texts:
    k = aid(r, c)
    xs = "" if k == 1 else str(k)
    ann.append(dict(x=Lv, y=v, xref="x" + xs, yref="y" + xs, text=t,
                    font=dict(family="Liberation Sans", size=16.5,
                              color=TXT_RED if ck == "r" else "#111111")))

# species key in the first-orbit HOPE panels
for k in (3, 6):
    for v, t, col, b in ((28.6, "Total", "#222222", False), (22.7, "H+", BLUE, True), (17.0, "O+", RED, True)):
        ann.append(dict(x=5.93, y=v, xref="x%d" % k, yref="y%d" % k, xanchor="right",
                        text=("<b>%s</b>" % t) if b else t,
                        font=dict(family="Open Sans", size=17, color=col)))

for a in ann:
    a.setdefault("xref", "paper")
    a.setdefault("yref", "paper")
    a.setdefault("xanchor", "center")
    a.setdefault("yanchor", "middle")
    a["showarrow"] = False
layout["annotations"] = ann

fig.update_layout(**layout)
fig.write_html("out.html")
